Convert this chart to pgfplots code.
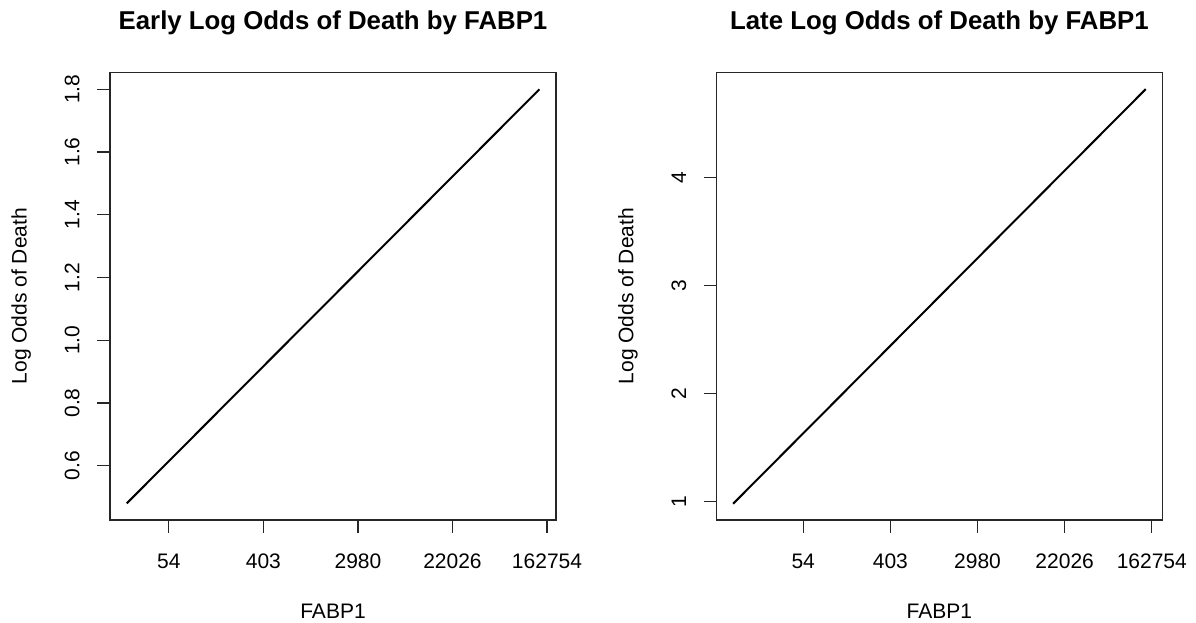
\documentclass[border=0pt]{standalone}
\usepackage{fontspec}
\setmainfont{Liberation Sans}
\usepackage{pgfplots}
\pgfplotsset{compat=1.18}

\pgfplotsset{rbase/.style={
  scale only axis, width=223bp, height=223.85bp,
  axis line style={line width=0.6bp, black!85},
  tick align=outside, major tick length=6.25bp,
  every tick/.style={black!85, line width=0.6bp},
  xtick pos=bottom, ytick pos=left,
  title style={font=\fontsize{12.9bp}{15bp}\selectfont\bfseries,
    at={(axis description cs:0.5,1.0833)}, anchor=center},
  xlabel style={at={(axis description cs:0.5,-0.2033)}, anchor=center},
  ylabel style={at={(axis description cs:-0.1991,0.5)}, anchor=center},
  xticklabel style={anchor=center, yshift=-14.5bp},
  yticklabel style={rotate=90, anchor=center, yshift=12.7bp},
  xtick={4,6,8,10,12},
  xticklabels={54,403,2980,22026,162754},
  xlabel={FABP1}, ylabel={Log Odds of Death},
}}

\begin{document}
\begin{tikzpicture}[font=\fontsize{10.5bp}{12.5bp}\selectfont]
\useasboundingbox (0,0) rectangle (598bp,311.5bp);

\begin{axis}[rbase, at={(55bp,51.5bp)}, anchor=south west,
  title={Early Log Odds of Death by FABP1},
  xmin=2.755, xmax=12.19, ymin=0.427, ymax=1.854,
  ytick={0.6,0.8,1.0,1.2,1.4,1.6,1.8},
  yticklabels={0.6,0.8,1.0,1.2,1.4,1.6,1.8}]
\addplot[black, line width=1bp] coordinates {(3.11,0.48) (11.84,1.80)};
\end{axis}

\begin{axis}[rbase, at={(358.35bp,51.5bp)}, anchor=south west,
  width=222.7bp,
  title={Late Log Odds of Death by FABP1},
  xmin=2.014, xmax=12.236, ymin=0.83, ymax=4.976,
  ytick={1,2,3,4}, yticklabels={1,2,3,4}]
\addplot[black, line width=1bp] coordinates {(2.39,0.98) (11.86,4.82)};
\end{axis}
\end{tikzpicture}
\end{document}
